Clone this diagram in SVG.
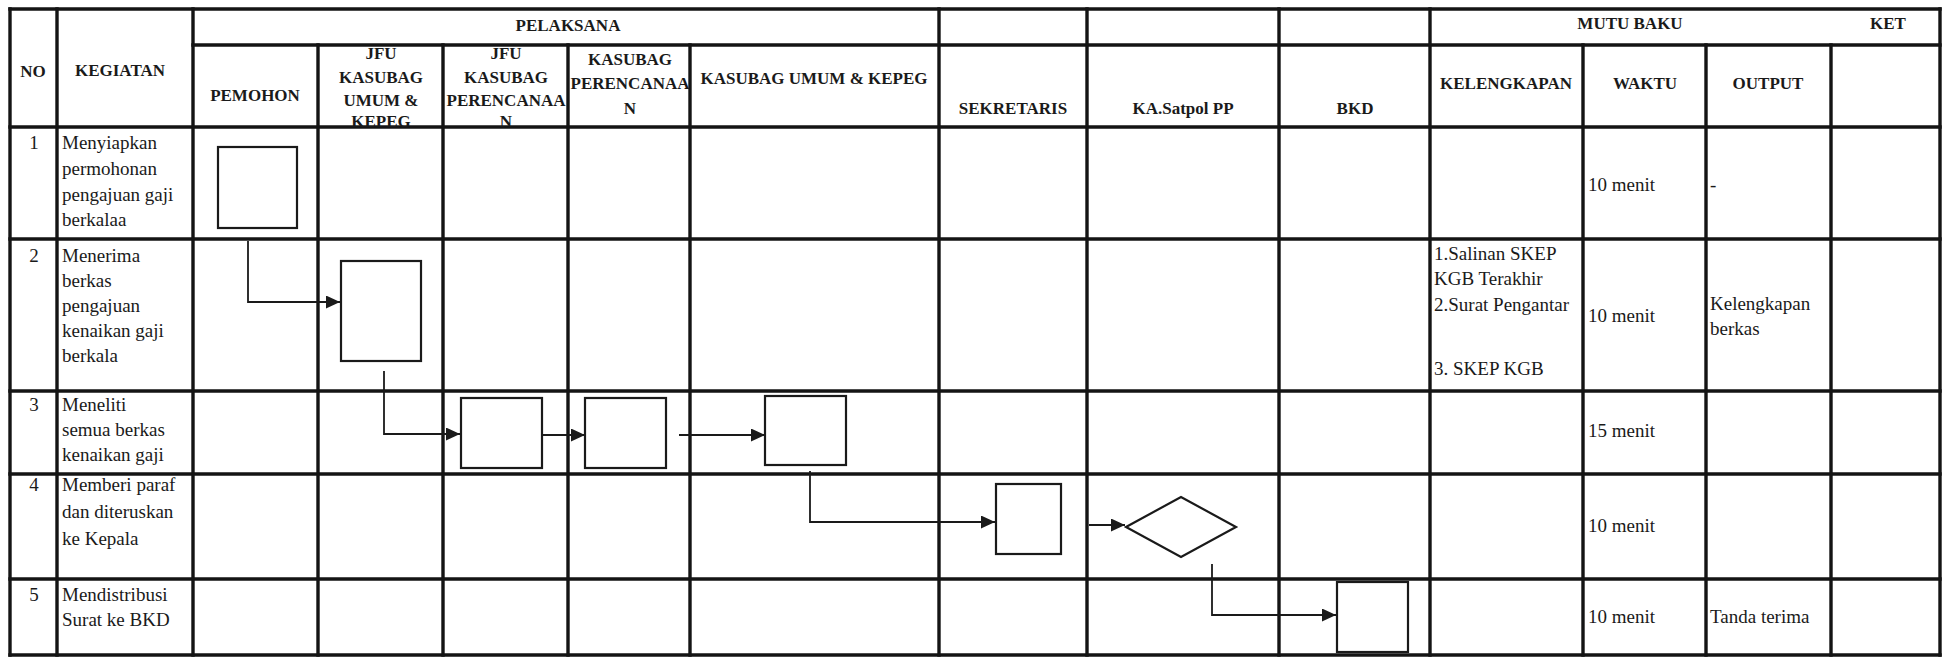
<svg xmlns="http://www.w3.org/2000/svg" width="1942" height="660" viewBox="0 0 1942 660">
<defs>
<marker id="ah" markerUnits="userSpaceOnUse" markerWidth="15" markerHeight="13" refX="14" refY="6.5" orient="auto"><path d="M0,0 L14,6.5 L0,13 z" fill="#1a1a1a"/></marker>
<style>
.g{stroke:#141414;stroke-width:3.4;fill:none;stroke-linecap:square}
.h{font-family:"Liberation Serif","Times New Roman",serif;font-weight:bold;font-size:17px;fill:#1a1a1a;text-anchor:middle}
.t{font-family:"Liberation Serif","Times New Roman",serif;font-size:19px;fill:#1a1a1a}
.n{font-family:"Liberation Serif","Times New Roman",serif;font-size:19px;fill:#1a1a1a;text-anchor:middle}
.s{fill:none;stroke:#1a1a1a;stroke-width:2.2}
.c{fill:none;stroke:#1a1a1a;stroke-width:1.8;marker-end:url(#ah)}
</style>
</defs>
<rect width="1942" height="660" fill="#ffffff"/>
<g id="grid">
<path class="g" d="M10,9 H1940 M193,45 H1940 M10,127 H1940 M10,239 H1940 M10,391 H1940 M10,474 H1940 M10,579 H1940 M10,655 H1940"/>
<path class="g" d="M10,9 V655 M57,9 V655 M193,9 V655 M318,45 V655 M443,45 V655 M568,45 V655 M690,45 V655 M939,9 V655 M1087,9 V655 M1279,9 V655 M1430,9 V655 M1583,45 V655 M1706,45 V655 M1831,45 V655 M1940,9 V655"/>
</g>
<g id="header">
<text class="h" x="568" y="31">PELAKSANA</text>
<text class="h" x="1630" y="29">MUTU BAKU</text>
<text class="h" x="1888" y="29">KET</text>
<text class="h" x="33" y="77">NO</text>
<text class="h" x="120" y="76">KEGIATAN</text>
<text class="h" x="255" y="101">PEMOHON</text>
<text class="h" x="381"><tspan x="381" y="59">JFU</tspan><tspan x="381" y="83">KASUBAG</tspan><tspan x="381" y="106">UMUM &amp;</tspan><tspan x="381" y="127">KEPEG</tspan></text>
<text class="h" x="506"><tspan x="506" y="59">JFU</tspan><tspan x="506" y="83">KASUBAG</tspan><tspan x="506" y="106">PERENCANAA</tspan><tspan x="506" y="127">N</tspan></text>
<text class="h" x="630"><tspan x="630" y="65">KASUBAG</tspan><tspan x="630" y="89">PERENCANAA</tspan><tspan x="630" y="114">N</tspan></text>
<text class="h" x="814" y="84">KASUBAG UMUM &amp; KEPEG</text>
<text class="h" x="1013" y="114">SEKRETARIS</text>
<text class="h" x="1183" y="114">KA.Satpol PP</text>
<text class="h" x="1355" y="114">BKD</text>
<text class="h" x="1506" y="89">KELENGKAPAN</text>
<text class="h" x="1645" y="89">WAKTU</text>
<text class="h" x="1768" y="89">OUTPUT</text>
</g>
<g id="row1">
<text class="n" x="34" y="149">1</text>
<text class="t" x="62"><tspan x="62" y="149">Menyiapkan</tspan><tspan x="62" y="175">permohonan</tspan><tspan x="62" y="201">pengajuan gaji</tspan><tspan x="62" y="226">berkalaa</tspan></text>
<text class="t" x="1588" y="191">10 menit</text>
<text class="t" x="1710" y="191">-</text>
</g>
<g id="row2">
<text class="n" x="34" y="262">2</text>
<text class="t" x="62"><tspan x="62" y="262">Menerima</tspan><tspan x="62" y="287">berkas</tspan><tspan x="62" y="312">pengajuan</tspan><tspan x="62" y="337">kenaikan gaji</tspan><tspan x="62" y="362">berkala</tspan></text>
<text class="t" x="1434"><tspan x="1434" y="260">1.Salinan SKEP</tspan><tspan x="1434" y="285">KGB Terakhir</tspan><tspan x="1434" y="311">2.Surat Pengantar</tspan><tspan x="1434" y="375">3. SKEP KGB</tspan></text>
<text class="t" x="1588" y="322">10 menit</text>
<text class="t" x="1710"><tspan x="1710" y="310">Kelengkapan</tspan><tspan x="1710" y="335">berkas</tspan></text>
</g>
<g id="row3">
<text class="n" x="34" y="411">3</text>
<text class="t" x="62"><tspan x="62" y="411">Meneliti</tspan><tspan x="62" y="436">semua berkas</tspan><tspan x="62" y="461">kenaikan gaji</tspan></text>
<text class="t" x="1588" y="437">15 menit</text>
</g>
<g id="row4">
<text class="n" x="34" y="491">4</text>
<text class="t" x="62"><tspan x="62" y="491">Memberi paraf</tspan><tspan x="62" y="518">dan diteruskan</tspan><tspan x="62" y="545">ke Kepala</tspan></text>
<text class="t" x="1588" y="532">10 menit</text>
</g>
<g id="row5">
<text class="n" x="34" y="601">5</text>
<text class="t" x="62"><tspan x="62" y="601">Mendistribusi</tspan><tspan x="62" y="626">Surat ke BKD</tspan></text>
<text class="t" x="1588" y="623">10 menit</text>
<text class="t" x="1710" y="623">Tanda terima</text>
</g>
<g id="node-pemohon"><rect class="s" x="218" y="147" width="79" height="81"/></g>
<g id="node-jfu-umum"><rect class="s" x="341" y="261" width="80" height="100"/></g>
<g id="node-jfu-perencanaan"><rect class="s" x="461" y="398" width="81" height="70"/></g>
<g id="node-kasubag-perencanaan"><rect class="s" x="585" y="398" width="81" height="70"/></g>
<g id="node-kasubag-umum"><rect class="s" x="765" y="396" width="81" height="69"/></g>
<g id="node-sekretaris"><rect class="s" x="996" y="484" width="65" height="70"/></g>
<g id="node-kasatpol"><polygon class="s" points="1126,527 1181,497 1236,527 1181,557"/></g>
<g id="node-bkd"><rect class="s" x="1337" y="582" width="71" height="70"/></g>
<g id="connectors">
<path class="c" d="M248,241 V302 H340"/>
<path class="c" d="M384,371 V434 H460"/>
<path class="c" d="M542,435 H585"/>
<path class="c" d="M679,435 H765"/>
<path class="c" d="M810,471 V522 H995"/>
<path class="c" d="M1089,525 H1125"/>
<path class="c" d="M1212,564 V615 H1336"/>
</g>
</svg>
